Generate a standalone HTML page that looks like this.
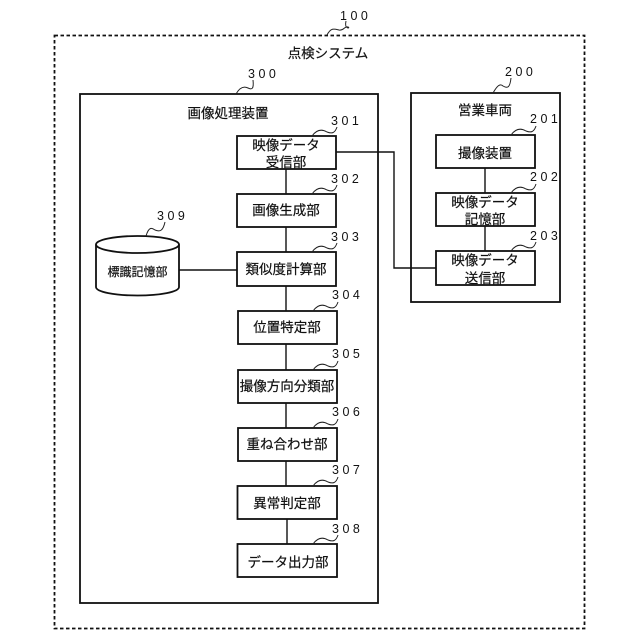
<!DOCTYPE html>
<html><head><meta charset="utf-8"><style>
html,body{margin:0;padding:0;background:#fff}
svg{display:block}
text{font-family:"Liberation Sans","Noto Sans CJK JP",sans-serif;fill:#111}
.t{font-size:13.5px;text-anchor:middle;stroke:#111;stroke-width:.2}
.n{font-size:12.5px;letter-spacing:3.5px}
.b{fill:#fff;stroke:#111;stroke-width:1.8}
.l{fill:none;stroke:#111;stroke-width:1.4}
.q{fill:none;stroke:#222;stroke-width:1}
</style></head><body>
<svg width="640" height="640" viewBox="0 0 640 640" xmlns="http://www.w3.org/2000/svg">
<rect x="54.5" y="35.5" width="530" height="593" fill="none" stroke="#111" stroke-width="1.8" stroke-dasharray="3.5 2.5"/>
<rect class="b" x="80" y="94" width="298" height="509"/>
<rect class="b" x="411" y="93" width="149" height="209"/>

<path class="l" d="M286 169V486M287 519V544M485 168V251M336 152H394V268H436M179 270H237"/>

<rect class="b" x="237" y="136" width="99" height="33"/>
<rect class="b" x="237" y="194" width="99" height="33"/>
<rect class="b" x="237" y="252" width="99" height="34"/>
<rect class="b" x="238" y="311" width="99" height="33"/>
<rect class="b" x="238" y="370" width="99" height="33"/>
<rect class="b" x="238" y="428" width="99" height="33"/>
<rect class="b" x="237.500" y="486" width="99.500" height="33"/>
<rect class="b" x="237.500" y="544" width="99.500" height="33"/>
<rect class="b" x="436" y="135" width="99" height="33"/>
<rect class="b" x="436" y="193" width="99" height="33"/>
<rect class="b" x="436" y="251" width="99" height="34"/>

<path class="b" d="M96 244.500V287C96 292 115 295.500 137.500 295.500C160 295.500 179 292 179 287V244.500"/>
<ellipse class="b" cx="137.500" cy="244.500" rx="41.500" ry="8.500"/>

<text class="t" x="328" y="58">点検システム</text>
<text class="t" x="228" y="118">画像処理装置</text>
<text class="t" x="485" y="115">営業車両</text>
<text class="t" x="286" y="150">映像データ</text>
<text class="t" x="286" y="167">受信部</text>
<text class="t" x="286" y="215">画像生成部</text>
<text class="t" x="286" y="274">類似度計算部</text>
<text class="t" x="287" y="332">位置特定部</text>
<text class="t" x="287" y="391">撮像方向分類部</text>
<text class="t" x="287" y="449">重ね合わせ部</text>
<text class="t" x="287" y="508">異常判定部</text>
<text class="t" x="288" y="567">データ出力部</text>
<text class="t" x="485" y="158">撮像装置</text>
<text class="t" x="485" y="207">映像データ</text>
<text class="t" x="485" y="224">記憶部</text>
<text class="t" x="485" y="265">映像データ</text>
<text class="t" x="485" y="283">送信部</text>
<text class="t" style="font-size:12px" x="137.500" y="276">標識記憶部</text>

<text class="n" x="340" y="20">100</text>
<text class="n" x="248" y="78">300</text>
<text class="n" x="331" y="125">301</text>
<text class="n" x="331" y="183">302</text>
<text class="n" x="331" y="241">303</text>
<text class="n" x="332" y="299">304</text>
<text class="n" x="332" y="358">305</text>
<text class="n" x="332" y="416">306</text>
<text class="n" x="332" y="474">307</text>
<text class="n" x="332" y="533">308</text>
<text class="n" x="157" y="220">309</text>
<text class="n" x="505" y="76">200</text>
<text class="n" x="530" y="123">201</text>
<text class="n" x="530" y="181">202</text>
<text class="n" x="530" y="240">203</text>

<path class="q" d="M327 35C331 27 335 29 339 30C344 31 344 26 348 27C351 28 344 30 346 21"/>
<path class="q" d="M236 94C240 87 244 86 248 88C252 90 254 89 253 80"/>
<path class="q" d="M312 136C317 129 322 129 327 132C332 134 335 133 337 127"/>
<path class="q" d="M312 194C317 187 322 187 327 190C332 192 335 191 337 185"/>
<path class="q" d="M312 252C317 245 322 245 327 248C332 250 335 249 337 243"/>
<path class="q" d="M313 311C318 304 323 304 328 307C333 309 336 308 338 302"/>
<path class="q" d="M313 370C318 363 323 363 328 366C333 368 336 367 338 361"/>
<path class="q" d="M313 428C318 421 323 421 328 424C333 426 336 425 338 419"/>
<path class="q" d="M313 486C318 479 323 479 328 482C333 484 336 483 338 477"/>
<path class="q" d="M313 544C318 537 323 537 328 540C333 542 336 541 338 535"/>
<path class="q" d="M146 236C149 226 152 228 155 230C160 232 163 231 165 222"/>
<path class="q" d="M493 93C497 86 500 83 503 86C508 89 510 87 511 78"/>
<path class="q" d="M511 135C516 128 521 128 526 131C531 133 534 132 536 126"/>
<path class="q" d="M511 193C516 186 521 186 526 189C531 191 534 190 536 184"/>
<path class="q" d="M511 251C516 244 521 244 526 247C531 249 534 248 536 242"/>
</svg>
</body></html>
